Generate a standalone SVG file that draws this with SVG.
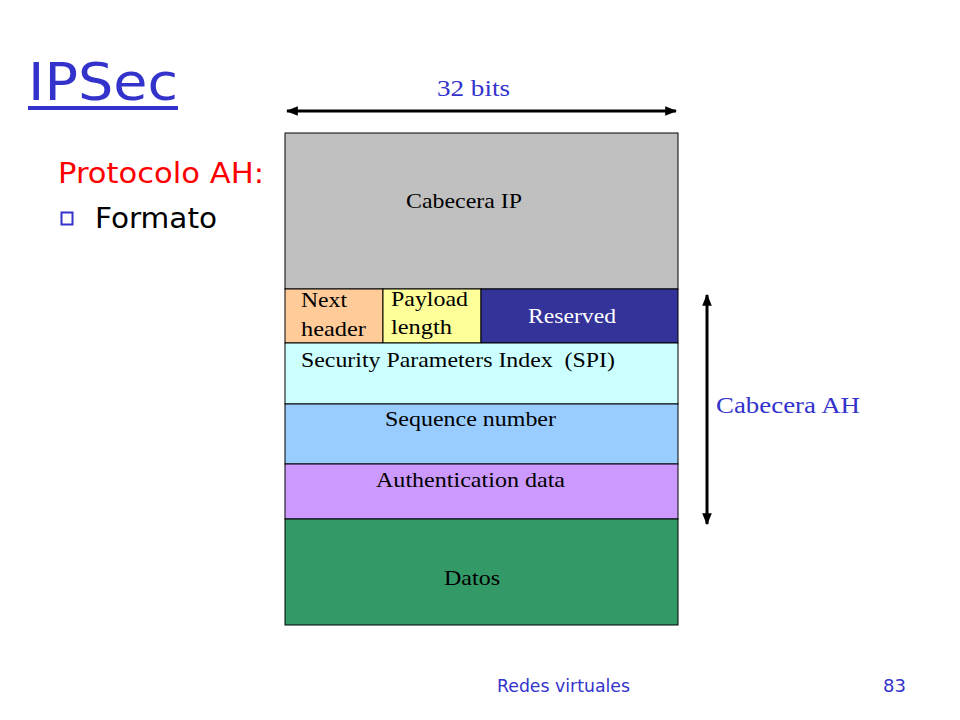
<svg xmlns="http://www.w3.org/2000/svg" width="960" height="720" viewBox="0 0 960 720">
<defs>
<marker id="ah" viewBox="0 0 10 10" refX="9" refY="5" markerWidth="4" markerHeight="4" orient="auto-start-reverse"><path d="M0,1 L10,5 L0,9 z" fill="#000"/></marker>
<style>
.f{stroke:#000;stroke-width:1}
.t{font-family:"Liberation Serif","Times New Roman",serif;font-size:21px;fill:#000}
.comic{font-family:"Comic Sans MS","DejaVu Sans","Noto Sans",sans-serif}
.blue{fill:#3333cc}
</style>
</defs>
<rect width="960" height="720" fill="#fff"/>
<g id="title">
<text x="28" y="100" class="comic blue" font-size="52" textLength="150" lengthAdjust="spacingAndGlyphs">IPSec</text>
<rect x="28" y="106" width="150" height="4" fill="#3333cc"/>
</g>
<g id="subtitle">
<text x="58" y="183" class="comic" font-size="28" fill="#ff0000" textLength="206" lengthAdjust="spacingAndGlyphs">Protocolo AH:</text>
<rect x="61.5" y="212.5" width="11" height="12" fill="#fff" stroke="#3333cc" stroke-width="2"/>
<text x="95" y="228" class="comic" font-size="28" fill="#000" textLength="122" lengthAdjust="spacingAndGlyphs">Formato</text>
</g>
<g id="ip"><rect x="285" y="133" width="393" height="156" fill="#c0c0c0" class="f"/><text x="406" y="208" class="t" textLength="116" lengthAdjust="spacingAndGlyphs">Cabecera IP</text></g>
<g id="nexthdr"><rect x="285" y="289" width="98" height="54" fill="#ffcc99" class="f"/><text x="301" y="307" class="t" textLength="46" lengthAdjust="spacingAndGlyphs">Next</text><text x="301" y="336" class="t" textLength="65" lengthAdjust="spacingAndGlyphs">header</text></g>
<g id="paylen"><rect x="383" y="289" width="98" height="54" fill="#ffff99" class="f"/><text x="391" y="306" class="t" textLength="77" lengthAdjust="spacingAndGlyphs">Payload</text><text x="391" y="334" class="t" textLength="61" lengthAdjust="spacingAndGlyphs">length</text></g>
<g id="reserved"><rect x="481" y="289" width="197" height="54" fill="#333399" class="f"/><text x="528" y="323" class="t" style="fill:#fff" textLength="88" lengthAdjust="spacingAndGlyphs">Reserved</text></g>
<g id="spi"><rect x="285" y="343" width="393" height="61" fill="#ccffff" class="f"/><text x="301" y="367" class="t" xml:space="preserve" textLength="314" lengthAdjust="spacingAndGlyphs">Security Parameters Index  (SPI)</text></g>
<g id="seq"><rect x="285" y="404" width="393" height="60" fill="#99ccff" class="f"/><text x="385" y="426" class="t" textLength="171" lengthAdjust="spacingAndGlyphs">Sequence number</text></g>
<g id="auth"><rect x="285" y="464" width="393" height="55" fill="#cc99ff" class="f"/><text x="376" y="487" class="t" textLength="189" lengthAdjust="spacingAndGlyphs">Authentication data</text></g>
<g id="datos"><rect x="285" y="519" width="393" height="106" fill="#339966" class="f"/><text x="444" y="585" class="t" textLength="56" lengthAdjust="spacingAndGlyphs">Datos</text></g>
<g id="connectors">
<line x1="287" y1="111" x2="676" y2="111" stroke="#000" stroke-width="3" marker-start="url(#ah)" marker-end="url(#ah)"/>
<line x1="707" y1="295" x2="707" y2="524" stroke="#000" stroke-width="3" marker-start="url(#ah)" marker-end="url(#ah)"/>
</g>
<g id="labels">
<text x="437" y="96" class="t" style="font-size:23px;fill:#3333cc" textLength="73" lengthAdjust="spacingAndGlyphs">32 bits</text>
<text x="716" y="413" class="t" style="font-size:23px;fill:#3333cc" textLength="144" lengthAdjust="spacingAndGlyphs">Cabecera AH</text>
</g>
<g id="footer">
<text x="497" y="692" class="comic blue" font-size="18" textLength="133" lengthAdjust="spacingAndGlyphs">Redes virtuales</text>
<text x="883" y="692" class="comic blue" font-size="18">83</text>
</g>
</svg>
